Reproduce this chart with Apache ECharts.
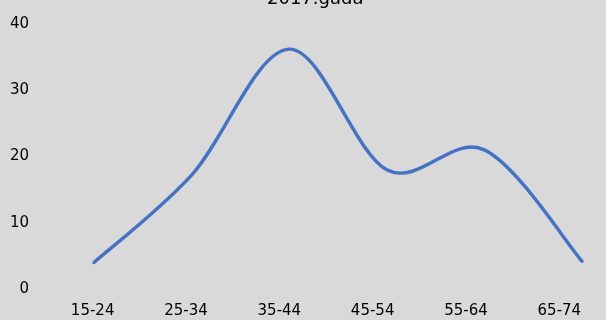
<!DOCTYPE html>
<html>
<head>
<meta charset="utf-8">
<script src="https://cdn.jsdelivr.net/npm/echarts@6/dist/echarts.min.js"></script>
<style>
  html, body { margin: 0; padding: 0; background: #d9d9d9; }
  #chart { width: 606px; height: 320px; }
</style>
</head>
<body>
<div id="chart"></div>
<script>
// Age groups on the horizontal axis
const ageGroups = ['15-24', '25-34', '35-44', '45-54', '55-64', '65-74'];
// Values for each age group
const values = [4, 17.2, 36.2, 18, 21, 4.2];
// Vertical axis range
const yMin = 0;
const yMax = 40;
const yStep = 10;
const titleText = '2017.gadā';

const font = 'DejaVu Sans';

// Smoothed line through the data points (cubic Bezier, Catmull-Rom tangents)
function renderSmoothLine(params, api) {
  if (params.dataIndex !== 0) return null;
  const pts = values.map((v, i) => api.coord([i, v]));
  const n = pts.length;
  const p = (i) => pts[Math.max(0, Math.min(n - 1, i))];
  let d = 'M' + pts[0][0] + ',' + pts[0][1];
  for (let i = 0; i < n - 1; i++) {
    const p0 = p(i - 1), p1 = p(i), p2 = p(i + 1), p3 = p(i + 2);
    const c1x = p1[0] + (p2[0] - p0[0]) / 6;
    const c1y = p1[1] + (p2[1] - p0[1]) / 6;
    const c2x = p2[0] - (p3[0] - p1[0]) / 6;
    const c2y = p2[1] - (p3[1] - p1[1]) / 6;
    d += 'C' + c1x + ',' + c1y + ' ' + c2x + ',' + c2y + ' ' + p2[0] + ',' + p2[1];
  }
  return {
    type: 'path',
    shape: { pathData: d },
    style: { fill: null, stroke: '#4472c4', lineWidth: 3.4, lineCap: 'round', lineJoin: 'round' }
  };
}

const chart = echarts.init(document.getElementById('chart'), null, { renderer: 'canvas' });
chart.setOption({
  backgroundColor: '#d9d9d9',
  animation: false,
  title: {
    text: titleText,
    left: 267,
    top: -10,
    padding: 0,
    textStyle: { fontFamily: font, fontSize: 18, fontWeight: 'normal', color: '#000' }
  },
  grid: [
    { left: 94, right: 24, top: 24, bottom: 31 },
    { left: 46, right: 0, top: 24, bottom: 31 }
  ],
  xAxis: [
    {
      type: 'category', gridIndex: 0, data: ageGroups, boundaryGap: false,
      axisLine: { show: false }, axisTick: { show: false }, axisLabel: { show: false },
      splitLine: { show: false }
    },
    {
      type: 'category', gridIndex: 1, data: ageGroups, boundaryGap: true,
      axisLine: { show: false }, axisTick: { show: false }, splitLine: { show: false },
      axisLabel: { fontFamily: font, fontSize: 15, color: '#000', margin: 15, interval: 0 }
    }
  ],
  yAxis: [
    {
      type: 'value', gridIndex: 0, min: yMin, max: yMax, interval: yStep,
      axisLine: { show: false }, axisTick: { show: false }, splitLine: { show: false },
      axisLabel: { fontFamily: font, fontSize: 15, color: '#000', margin: 65, padding: [4, 0, 0, 0] }
    },
    {
      type: 'value', gridIndex: 1, min: yMin, max: yMax, show: false
    }
  ],
  series: [{
    type: 'custom',
    xAxisIndex: 0, yAxisIndex: 0,
    data: values.map((v, i) => [i, v]),
    renderItem: renderSmoothLine,
    clip: false
  }]
});
</script>
</body>
</html>
